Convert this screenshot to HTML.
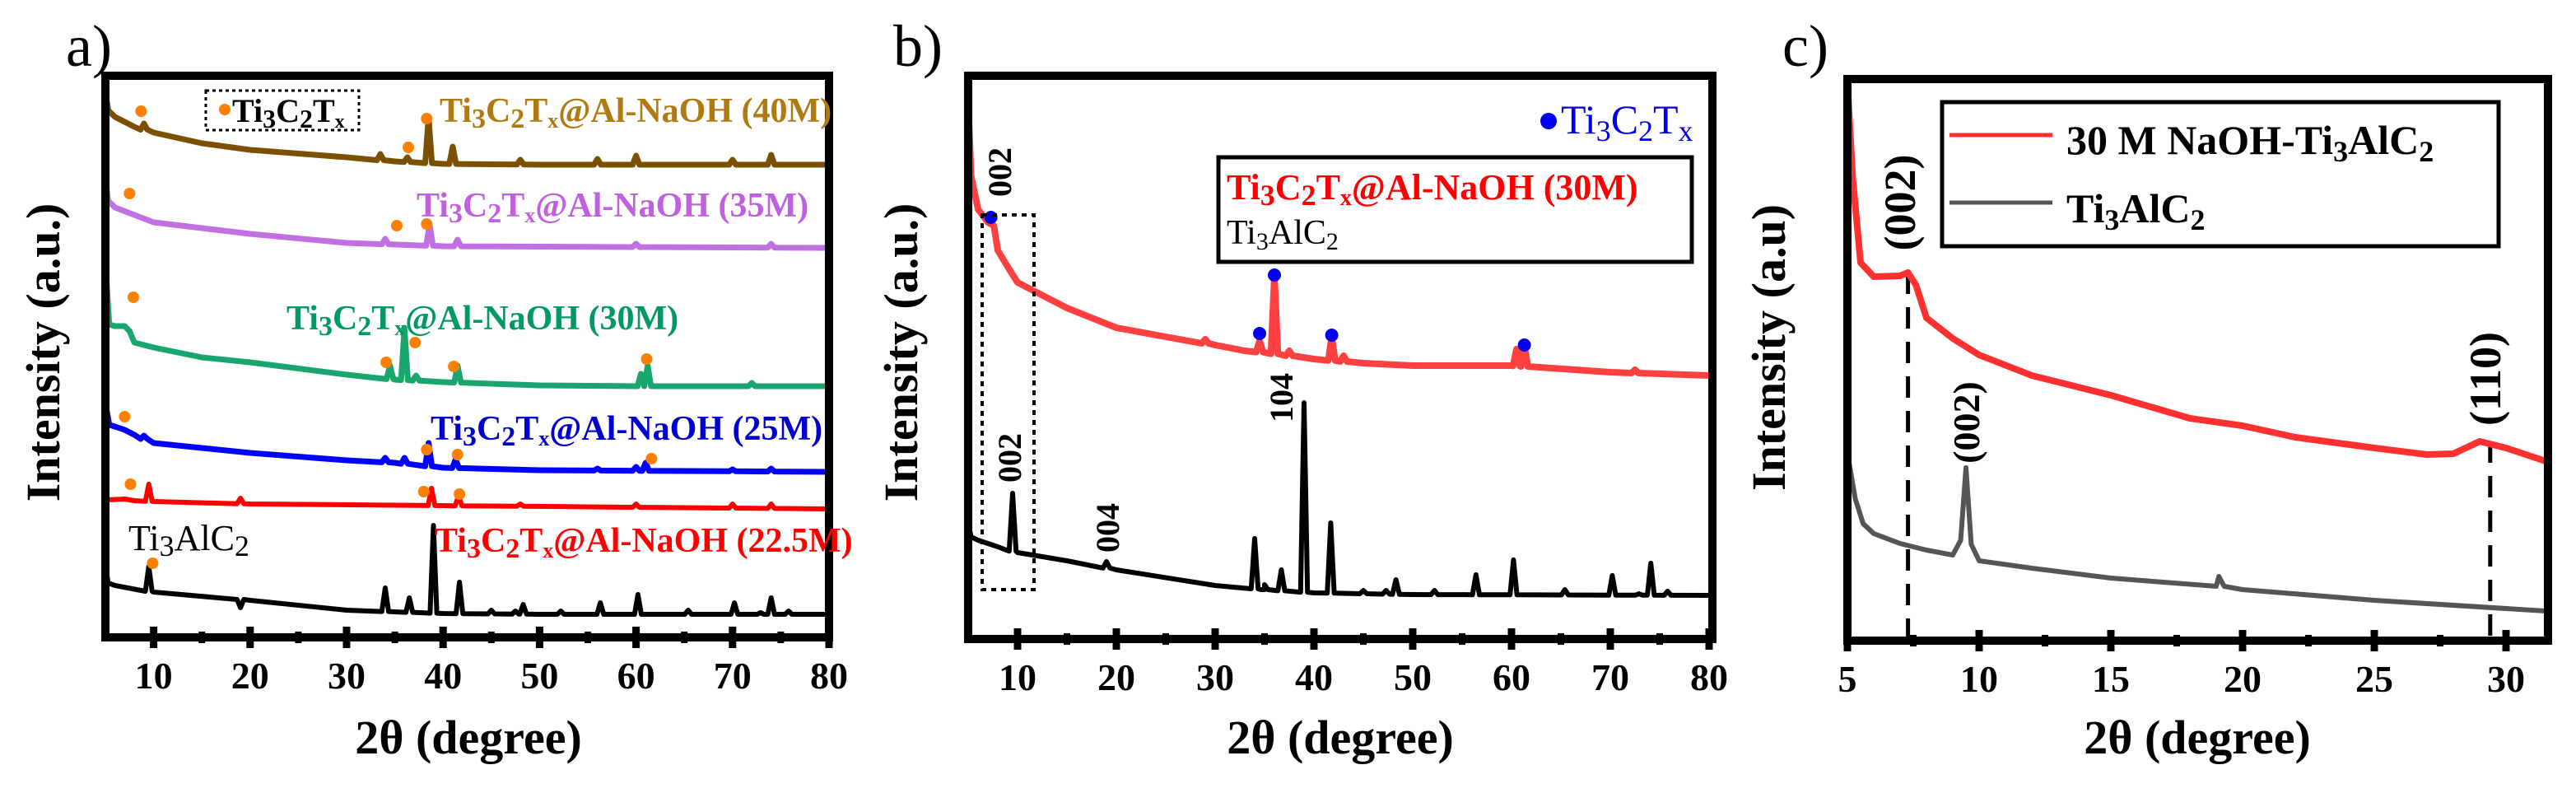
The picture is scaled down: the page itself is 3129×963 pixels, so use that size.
<!DOCTYPE html>
<html><head><meta charset="utf-8"><style>
html,body{margin:0;padding:0;background:#fff;}
svg{display:block;font-family:"Liberation Serif",serif;}
</style></head><body>
<svg id="fig" width="3129" height="963" viewBox="0 0 3129 963" xmlns="http://www.w3.org/2000/svg">
<defs>
<clipPath id="clipA"><rect x="133" y="97" width="869" height="672"/></clipPath>
<clipPath id="clipB"><rect x="1181" y="97" width="894" height="674"/></clipPath>
<clipPath id="clipC"><rect x="2249" y="101" width="841" height="672"/></clipPath>
</defs>
<text x="80" y="80" font-size="72">a)</text>
<text x="1085" y="80" font-size="72">b)</text>
<text x="2165" y="80" font-size="72">c)</text>

<text x="569" y="915" font-size="58" font-weight="bold" text-anchor="middle">2θ (degree)</text>
<text x="1628" y="915" font-size="58" font-weight="bold" text-anchor="middle">2θ (degree)</text>
<text x="2669" y="915" font-size="58" font-weight="bold" text-anchor="middle">2θ (degree)</text>
<text transform="translate(72,428) rotate(-90)" font-size="58" font-weight="bold" text-anchor="middle">Intensity (a.u.)</text>
<text transform="translate(1114,428) rotate(-90)" font-size="58" font-weight="bold" text-anchor="middle">Intensity (a.u.)</text>
<text transform="translate(2168,422) rotate(-90)" font-size="58" font-weight="bold" text-anchor="middle">Intensity (a.u)</text>

<g id="gA"></g>
<g id="gB"></g>
<g id="gC"></g>

<rect x="250" y="110" width="186" height="48" fill="none" stroke="#000" stroke-width="3" stroke-dasharray="4,4"/>
<circle cx="273" cy="133" r="7" fill="#FF8000"/>
<text x="282" y="148" font-size="40" font-weight="bold">Ti<tspan dy="7" font-size="32">3</tspan><tspan dy="-7">C</tspan><tspan dy="7" font-size="32">2</tspan><tspan dy="-7">T</tspan><tspan dy="7" font-size="24">x</tspan></text>
<text x="534" y="148" font-size="42" font-weight="bold" fill="#B07A10">Ti<tspan dy="7" font-size="34">3</tspan><tspan dy="-7">C</tspan><tspan dy="7" font-size="34">2</tspan><tspan dy="-7">T</tspan><tspan dy="7" font-size="26">x</tspan><tspan dy="-7">@Al-NaOH (40M)</tspan></text>
<text x="506" y="263" font-size="42" font-weight="bold" fill="#C060E0">Ti<tspan dy="7" font-size="34">3</tspan><tspan dy="-7">C</tspan><tspan dy="7" font-size="34">2</tspan><tspan dy="-7">T</tspan><tspan dy="7" font-size="26">x</tspan><tspan dy="-7">@Al-NaOH (35M)</tspan></text>
<text x="348" y="400" font-size="42" font-weight="bold" fill="#009966">Ti<tspan dy="7" font-size="34">3</tspan><tspan dy="-7">C</tspan><tspan dy="7" font-size="34">2</tspan><tspan dy="-7">T</tspan><tspan dy="7" font-size="26">x</tspan><tspan dy="-7">@Al-NaOH (30M)</tspan></text>
<text x="523" y="534" font-size="42" font-weight="bold" fill="#0000CC">Ti<tspan dy="7" font-size="34">3</tspan><tspan dy="-7">C</tspan><tspan dy="7" font-size="34">2</tspan><tspan dy="-7">T</tspan><tspan dy="7" font-size="26">x</tspan><tspan dy="-7">@Al-NaOH (25M)</tspan></text>
<text x="528" y="670" font-size="42" font-weight="bold" fill="#FF0000">Ti<tspan dy="7" font-size="34">3</tspan><tspan dy="-7">C</tspan><tspan dy="7" font-size="34">2</tspan><tspan dy="-7">T</tspan><tspan dy="7" font-size="26">x</tspan><tspan dy="-7">@Al-NaOH (22.5M)</tspan></text>
<text x="156" y="668" font-size="44">Ti<tspan dy="7" font-size="36">3</tspan><tspan dy="-7">AlC</tspan><tspan dy="7" font-size="36">2</tspan></text>

<rect x="1193" y="261" width="63" height="455" fill="none" stroke="#000" stroke-width="4" stroke-dasharray="6,6"/>
<rect x="1480" y="191" width="575" height="127" fill="#fff" stroke="#000" stroke-width="5"/>
<text x="1490" y="242" font-size="44" font-weight="bold" fill="#FF0000">Ti<tspan dy="7" font-size="36">3</tspan><tspan dy="-7">C</tspan><tspan dy="7" font-size="36">2</tspan><tspan dy="-7">T</tspan><tspan dy="7" font-size="28">x</tspan><tspan dy="-7">@Al-NaOH (30M)</tspan></text>
<text x="1490" y="296" font-size="42">Ti<tspan dy="7" font-size="30">3</tspan><tspan dy="-7">AlC</tspan><tspan dy="7" font-size="30">2</tspan></text>
<circle cx="1881" cy="147" r="10" fill="#0000EE"/>
<text x="1896" y="162" font-size="50" fill="#0000EE">Ti<tspan dy="9" font-size="36">3</tspan><tspan dy="-9">C</tspan><tspan dy="9" font-size="36">2</tspan><tspan dy="-9">T</tspan><tspan dy="9" font-size="36">x</tspan></text>
<text transform="translate(1228,209) rotate(-90)" font-size="40" font-weight="bold" text-anchor="middle">002</text>
<text transform="translate(1240,556) rotate(-90)" font-size="40" font-weight="bold" text-anchor="middle">002</text>
<text transform="translate(1359,641) rotate(-90)" font-size="40" font-weight="bold" text-anchor="middle">004</text>
<text transform="translate(1570,483) rotate(-90)" font-size="40" font-weight="bold" text-anchor="middle">104</text>

<rect x="2359" y="124" width="676" height="175" fill="#fff" stroke="#000" stroke-width="5"/>
<line x1="2368" y1="164" x2="2493" y2="164" stroke="#FF3030" stroke-width="5"/>
<line x1="2368" y1="246" x2="2493" y2="246" stroke="#555" stroke-width="5"/>
<text x="2510" y="187" font-size="50" font-weight="bold">30 M NaOH-Ti<tspan dy="9" font-size="36">3</tspan><tspan dy="-9">AlC</tspan><tspan dy="9" font-size="36">2</tspan></text>
<text x="2510" y="270" font-size="50" font-weight="bold">Ti<tspan dy="9" font-size="36">3</tspan><tspan dy="-9">AlC</tspan><tspan dy="9" font-size="36">2</tspan></text>
<text transform="translate(2326,246) rotate(-90)" font-size="54" font-weight="bold" text-anchor="middle">(002)</text>
<text transform="translate(2404,513) rotate(-90)" font-size="46" font-weight="bold" text-anchor="middle">(002)</text>
<text transform="translate(3037,460) rotate(-90)" font-size="54" font-weight="bold" text-anchor="middle">(110)</text>
</svg>
<script>
// ---------- Panel a data (2θ, intensity a.u.) ----------
const aBrownBase=[[5,662],[5.3,640],[6,632],[8,620],[10,613],[15,600],[20,592],[30,583],[35,578],[40,575],[50,574],[80,574]];
const aBrownPeaks=[[9,624],[33.5,587],[36.3,583],[38.5,632],[41,596],[48,580],[56,581],[60,585],[70,580],[74,586]];
const aPurpleBase=[[5,556],[5.3,530],[6,522],[10,504],[20,490],[30,479],[40,475],[80,473]];
const aPurplePeaks=[[34,484],[38.6,502],[41.5,483],[60,478],[74,478]];
const aGreenBase=[[5,456],[5.4,380],[6,378],[7,378],[7.5,372],[8,358],[10,352],[15,340],[20,334],[30,319],[35,313],[40,310],[45,308],[50,306],[60,305],[80,305]];
const aGreenPeaks=[[34.5,330],[36,376],[37.2,318],[41.5,330],[60.5,320],[61.2,330],[72,309]];
const aBlueBase=[[5,285],[5.4,258],[6,256],[7,252],[8,246],[10,236],[20,224],[30,215],[35,212],[40,206],[50,203],[80,201]];
const aBluePeaks=[[9,245],[34,218],[36,218],[38.5,236],[41.3,216],[56,205],[60,207],[61,212],[70,204],[74,205]];
const aRedBase=[[5,175],[5.3,167],[7,168],[8,166],[10,165],[20,162],[40,160],[80,156]];
const aRedPeaks=[[9.5,186],[19,169],[38.8,181],[41.6,172],[48,162],[60,162],[70,162],[74,162]];
const aBlackBase=[[5,86],[5.3,66],[6,63],[10,55],[20,45],[30,33],[35,31],[40,29],[50,28],[80,28]];
const aBlackPeaks=[[9.5,86],[19,36],[34,60],[36.5,48],[39,136],[41.7,67],[45,33],[47.5,32],[48.3,40],[52.2,32],[56.3,42],[60.2,52],[65.4,33],[70.2,42],[72.9,30],[74,48],[75.8,32]];
const aDots=[[8.7,639],[36.4,595],[38.3,630],[7.5,539],[35.2,500],[38.3,502],[7.9,413],[34.1,334],[37.1,358],[41.1,329],[61.1,338],[7.0,268],[38.3,228],[41.5,222],[61.6,217],[7.6,186],[38.0,177],[41.7,174],[9.9,90]];
const aTickLabels=[10,20,30,40,50,60,70,80];
const aMinorTicks=[15,25,35,45,55,65,75];
// ---------- Panel b data ----------
const bRedBase=[[5,651],[5.3,560],[6,520],[7,504],[7.6,500],[8,470],[9,450],[10,431],[15,400],[20,376],[25,365],[30,355],[33,348],[35,346],[40,338],[45,333],[50,330],[60,330],[70,322],[80,318]];
const bRedPeaks=[[29,362],[34.5,360],[36,440],[37.5,348],[41.8,365],[43,342],[60.5,350],[61.3,355],[72.5,325]];
const bBlackBase=[[5,139],[5.3,122],[6,118],[8,110],[10,103],[15,93],[20,82],[30,63],[35,58],[40,54],[50,52],[80,51]];
const bBlackPeaks=[[9.5,175],[19,92],[34,120],[35,64],[36.7,82],[39,285],[41.7,139],[45,57],[47.3,57],[48.3,70],[52.2,57],[56.4,76],[60.2,94],[65.4,58],[70.2,75],[72.9,53],[74.1,90],[75.8,56]];
const bDots=[[7.3,510],[34.5,369],[36,440],[41.8,367],[61.3,355]];
const bTickLabels=[10,20,30,40,50,60,70,80];
const bMinorTicks=[15,25,35,45,55,65,75];
// ---------- Panel c data ----------
const cRed=[[5,676],[5.2,560],[5.5,457],[6,440],[7,441],[7.3,445],[7.6,430],[8,390],[9,365],[10,345],[12,320],[15,296],[18,268],[20,259],[22,245],[25,232],[27,224],[28,225],[29,240],[30,232],[31.5,216]];
const cGray=[[5,226],[5.3,170],[5.6,140],[6,128],[7,116],[8,108],[9,102],[9.3,120],[9.5,208],[9.7,115],[10,95],[12,86],[15,74],[19,64],[19.1,76],[19.3,64],[20,60],[25,47],[31.5,34]];
const cRefLines=[[7.3,445],[29.4,240]];
const cTickLabels=[5,10,15,20,25,30];
const cMinorTicks=[7.5,12.5,17.5,22.5,27.5];

const NS="http://www.w3.org/2000/svg";
const AX=v=>128+(v-5)*11.72, AY=v=>774-v;
const BX=v=>1176+(v-5)*12.0, BY=v=>774-v;
const CX=v=>2244+(v-5)*32, CY=v=>776-v;

function interp(base,x){for(let i=0;i<base.length-1;i++){if(x>=base[i][0]&&x<=base[i+1][0]){const t=(x-base[i][0])/(base[i+1][0]-base[i][0]);return base[i][1]+t*(base[i+1][1]-base[i][1]);}}return base[base.length-1][1];}
function build(base,peaks,w){let pts=base.slice();peaks.forEach(p=>{const b=interp(base,p[0]);pts.push([p[0]-w,b],[p[0],p[1]],[p[0]+w,b]);});pts.sort((a,b)=>a[0]-b[0]);return pts;}
function el(tag,attrs,parent){const e=document.createElementNS(NS,tag);for(const k in attrs)e.setAttribute(k,attrs[k]);parent.appendChild(e);return e;}
function line(g,pts,X,Y,color,sw,clip,name){const d=pts.map((p,i)=>(i?'L':'M')+X(p[0]).toFixed(1)+','+Y(p[1]).toFixed(1)).join('');const e=el('path',{d:d,fill:'none',stroke:color,'stroke-width':sw,'stroke-linejoin':'round','clip-path':'url(#'+clip+')'},g);


return e;}
function frame(g,x0,y0,x1,y1,X,majors,minors,name){
 const r=el('rect',{x:x0,y:y0,width:x1-x0,height:y1-y0,fill:'none',stroke:'#000','stroke-width':10},g);
 
 
 majors.forEach(v=>{const t=el('line',{x1:X(v),x2:X(v),y1:y1-13,y2:y1+13,stroke:'#000','stroke-width':9},g);
  
  
  const l=el('text',{x:X(v),y:y1+62,'font-size':46,'font-weight':'bold','text-anchor':'middle'},g);l.textContent=v;
  
  });
 minors.forEach(v=>{const t=el('line',{x1:X(v),x2:X(v),y1:y1-7,y2:y1+7,stroke:'#000','stroke-width':8},g);
  
  });
}
function dots(g,arr,X,Y,color,r,name){arr.forEach(p=>{const c=el('circle',{cx:X(p[0]),cy:Y(p[1]),r:r,fill:color},g);
 
 });}

const gA=document.getElementById('gA'),gB=document.getElementById('gB'),gC=document.getElementById('gC');
line(gA,build(aBrownBase,aBrownPeaks,0.35),AX,AY,'#7B5000',7,'clipA','series-40m');
line(gA,build(aPurpleBase,aPurplePeaks,0.35),AX,AY,'#C070E0',7,'clipA','series-35m');
line(gA,build(aGreenBase,aGreenPeaks,0.35),AX,AY,'#19A66E',7,'clipA','series-30m');
line(gA,build(aBlueBase,aBluePeaks,0.35),AX,AY,'#0000FF',7,'clipA','series-25m');
line(gA,build(aRedBase,aRedPeaks,0.35),AX,AY,'#FF0000',6,'clipA','series-22-5m');
line(gA,build(aBlackBase,aBlackPeaks,0.35),AX,AY,'#000',6,'clipA','series-ti3alc2');
dots(gA,aDots,AX,AY,'#FF8000',7,'ti3c2tx-marker');
frame(gA,128,92,1007,774,AX,aTickLabels,aMinorTicks,'panel-a');

line(gB,build(bRedBase,bRedPeaks,0.35),BX,BY,'#FF4040',8,'clipB','series-b-30m');
line(gB,build(bBlackBase,bBlackPeaks,0.35),BX,BY,'#000',6,'clipB','series-b-ti3alc2');
dots(gB,bDots,BX,BY,'#0000EE',8,'ti3c2tx-marker-b');
frame(gB,1176,92,2080,776,BX,bTickLabels,bMinorTicks,'panel-b');

cRefLines.forEach(p=>{const l=el('line',{x1:CX(p[0]),x2:CX(p[0]),y1:CY(p[1]),y2:776,stroke:'#000','stroke-width':5,'stroke-dasharray':'26,16'},gC);
 
 });
line(gC,cRed,CX,CY,'#FF3030',8,'clipC','series-c-30m');
line(gC,cGray,CX,CY,'#555',6,'clipC','series-c-ti3alc2');
frame(gC,2244,96,3095,778,CX,cTickLabels,cMinorTicks,'panel-c');
</script>
</body></html>
